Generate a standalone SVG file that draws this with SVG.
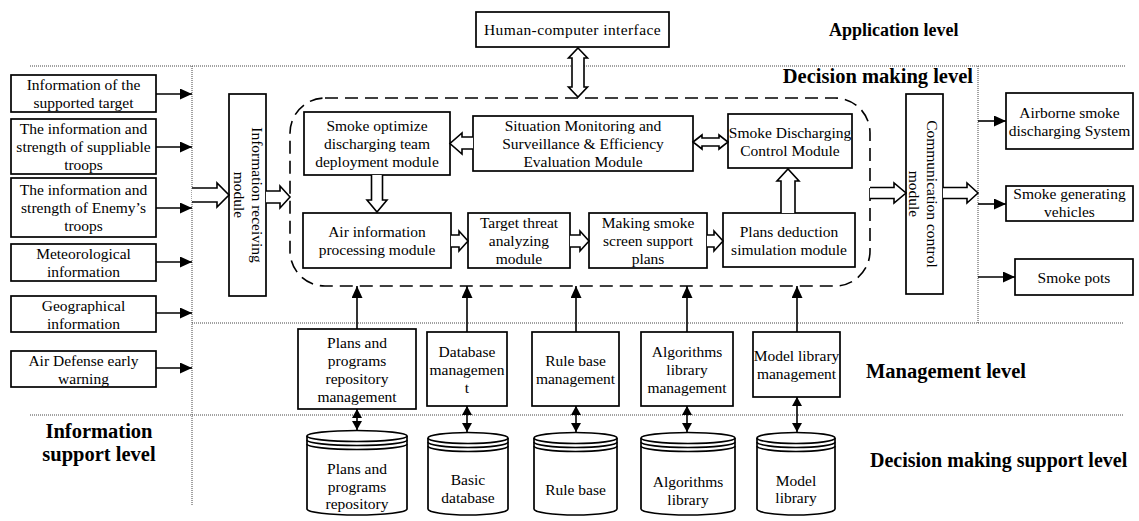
<svg xmlns="http://www.w3.org/2000/svg" width="1139" height="521" viewBox="0 0 1139 521">
<style>
text{font-family:"Liberation Serif","Times New Roman",serif;font-size:15.5px;fill:#000}
.t{text-anchor:middle}
.h{font-weight:bold;font-size:20.5px}
.b{fill:#fff;stroke:#000;stroke-width:1.7}
.d{fill:none;stroke:#444;stroke-width:1;stroke-dasharray:1 1}
.c{fill:none;stroke:#000;stroke-width:1.6}
.ho{fill:#fff;stroke:#000;stroke-width:1.6;stroke-linejoin:miter}
</style>
<defs>
<marker id="a" markerUnits="userSpaceOnUse" markerWidth="12" markerHeight="11" refX="12" refY="5.5" orient="auto-start-reverse"><path d="M0,0 L12,5.5 L0,11 z" fill="#000"/></marker>
<marker id="s" markerUnits="userSpaceOnUse" markerWidth="9" markerHeight="10" refX="9" refY="5" orient="auto-start-reverse"><path d="M0,0 L9,5 L0,10 z" fill="#000"/></marker>
</defs>
<rect width="1139" height="521" fill="#fff"/>

<g id="levels">
<line class="d" x1="30" y1="66" x2="1125" y2="66"/>
<line class="d" x1="192" y1="66" x2="192" y2="505"/>
<line class="d" x1="192" y1="323" x2="1123" y2="323"/>
<line class="d" x1="30" y1="415" x2="1123" y2="415"/>
<line class="d" x1="978" y1="66" x2="978" y2="323"/>
<text class="h" x="829" y="36" style="font-size:18px">Application level</text>
<text class="h" x="973" y="83" text-anchor="end">Decision making level</text>
<text class="h" x="866" y="378">Management level</text>
<text class="h" x="870" y="467" style="font-size:20px">Decision making support level</text>
<text class="h t" x="99" y="438">Information</text>
<text class="h t" x="99" y="461">support level</text>
</g>

<g id="in1"><rect class="b" x="11" y="75" width="145" height="37"/><text class="t" x="83.5" y="90">Information of the</text><text class="t" x="83.5" y="108">supported target</text></g>
<g id="in2"><rect class="b" x="11" y="119" width="145" height="55"/><text class="t" x="83.5" y="134">The information and</text><text class="t" x="83.5" y="152">strength of suppliable</text><text class="t" x="83.5" y="170">troops</text></g>
<g id="in3"><rect class="b" x="11" y="178" width="145" height="59"/><text class="t" x="83.5" y="195">The information and</text><text class="t" x="83.5" y="213">strength of Enemy’s</text><text class="t" x="83.5" y="231">troops</text></g>
<g id="in4"><rect class="b" x="11" y="244" width="145" height="37"/><text class="t" x="83.5" y="259">Meteorological</text><text class="t" x="83.5" y="277">information</text></g>
<g id="in5"><rect class="b" x="11" y="296" width="145" height="36"/><text class="t" x="83.5" y="310.5">Geographical</text><text class="t" x="83.5" y="328.5">information</text></g>
<g id="in6"><rect class="b" x="11" y="351" width="145" height="36"/><text class="t" x="83.5" y="365.5">Air Defense early</text><text class="t" x="83.5" y="383.5">warning</text></g>

<g id="hci"><rect class="b" x="476" y="12" width="193" height="35"/><text class="t" x="572.5" y="35" style="letter-spacing:0.4px">Human-computer interface</text></g>

<g id="recv"><rect class="b" x="229" y="94" width="37" height="202"/><g transform="translate(247.5,195) rotate(90)"><text class="t" x="0" y="-4.5">Information receiving</text><text class="t" x="0" y="14">module</text></g></g>

<g id="comm"><rect class="b" x="906" y="94" width="37" height="200"/><g transform="translate(924.5,194) rotate(90)"><text class="t" x="0" y="-2.5">Communication control</text><text class="t" x="0" y="15.5">module</text></g></g>

<g id="core"><rect x="290" y="98" width="580" height="188" rx="35" ry="35" fill="none" stroke="#000" stroke-width="1.6" stroke-dasharray="13 7"/></g>

<g id="optimize"><rect class="b" x="304" y="112" width="146" height="63"/><text class="t" x="377" y="131">Smoke optimize</text><text class="t" x="377" y="149">discharging team</text><text class="t" x="377" y="167">deployment module</text></g>
<g id="situation"><rect class="b" x="473" y="116" width="220" height="55"/><text class="t" x="583" y="131">Situation Monitoring and</text><text class="t" x="583" y="149">Surveillance &amp; Efficiency</text><text class="t" x="583" y="167">Evaluation Module</text></g>
<g id="discharge"><rect class="b" x="728" y="114" width="124" height="54"/><text class="t" x="790" y="137.5">Smoke Discharging</text><text class="t" x="790" y="155.5">Control Module</text></g>
<g id="airinfo"><rect class="b" x="303" y="213" width="148" height="55"/><text class="t" x="377" y="237">Air information</text><text class="t" x="377" y="255">processing module</text></g>
<g id="threat"><rect class="b" x="468" y="213" width="102" height="55"/><text class="t" x="519" y="228">Target threat</text><text class="t" x="519" y="246">analyzing</text><text class="t" x="519" y="264">module</text></g>
<g id="plans"><rect class="b" x="589" y="213" width="118" height="55"/><text class="t" x="648" y="228">Making smoke</text><text class="t" x="648" y="246">screen support</text><text class="t" x="648" y="264">plans</text></g>
<g id="deduction"><rect class="b" x="723" y="213" width="132" height="54"/><text class="t" x="789" y="237">Plans deduction</text><text class="t" x="789" y="255">simulation module</text></g>

<g id="out1"><rect class="b" x="1006" y="93" width="127" height="56"/><text class="t" x="1069.5" y="117.5">Airborne smoke</text><text class="t" x="1069.5" y="135.5">discharging System</text></g>
<g id="out2"><rect class="b" x="1006" y="186" width="127" height="35"/><text class="t" x="1069.5" y="199">Smoke generating</text><text class="t" x="1069.5" y="217">vehicles</text></g>
<g id="out3"><rect class="b" x="1015" y="259" width="118" height="36"/><text class="t" x="1074" y="282.5">Smoke pots</text></g>

<g id="m1"><rect class="b" x="298" y="329" width="118" height="80"/><text class="t" x="357" y="347.5">Plans and</text><text class="t" x="357" y="365.5">programs</text><text class="t" x="357" y="383.5">repository</text><text class="t" x="357" y="401.5">management</text></g>
<g id="m2"><rect class="b" x="427" y="332" width="80" height="74"/><text class="t" x="467" y="356.5">Database</text><text class="t" x="467" y="374.5">managemen</text><text class="t" x="467" y="392.5">t</text></g>
<g id="m3"><rect class="b" x="532" y="332" width="87" height="74"/><text class="t" x="575.5" y="365.5">Rule base</text><text class="t" x="575.5" y="383.5">management</text></g>
<g id="m4"><rect class="b" x="641" y="332" width="92" height="74"/><text class="t" x="687" y="356.5">Algorithms</text><text class="t" x="687" y="374.5">library</text><text class="t" x="687" y="392.5">management</text></g>
<g id="m5"><rect class="b" x="753" y="332" width="87" height="65"/><text class="t" x="796.5" y="361">Model library</text><text class="t" x="796.5" y="379">management</text></g>

<g id="db1"><path class="b" d="M307 436 V509 A50 6 0 0 0 407 509 V436"/><ellipse class="b" cx="357" cy="436" rx="50" ry="5.5"/><path class="c" d="M307 440 A50 5.5 0 0 0 407 440 M307 444 A50 5.5 0 0 0 407 444"/><text class="t" x="357" y="474">Plans and</text><text class="t" x="357" y="491.5">programs</text><text class="t" x="357" y="509">repository</text></g>
<g id="db2"><path class="b" d="M428 438 V509 A40 6 0 0 0 508 509 V438"/><ellipse class="b" cx="468" cy="438" rx="40" ry="5.5"/><path class="c" d="M428 442 A40 5.5 0 0 0 508 442 M428 446 A40 5.5 0 0 0 508 446"/><text class="t" x="468" y="485">Basic</text><text class="t" x="468" y="503">database</text></g>
<g id="db3"><path class="b" d="M534 438 V509 A41.5 6 0 0 0 617 509 V438"/><ellipse class="b" cx="575.5" cy="438" rx="41.5" ry="5.5"/><path class="c" d="M534 442 A41.5 5.5 0 0 0 617 442 M534 446 A41.5 5.5 0 0 0 617 446"/><text class="t" x="575.5" y="495">Rule base</text></g>
<g id="db4"><path class="b" d="M641 438 V509 A47 6 0 0 0 735 509 V438"/><ellipse class="b" cx="688" cy="438" rx="47" ry="5.5"/><path class="c" d="M641 442 A47 5.5 0 0 0 735 442 M641 446 A47 5.5 0 0 0 735 446"/><text class="t" x="688" y="487">Algorithms</text><text class="t" x="688" y="505">library</text></g>
<g id="db5"><path class="b" d="M757 438 V509 A39 6 0 0 0 835 509 V438"/><ellipse class="b" cx="796" cy="438" rx="39" ry="5.5"/><path class="c" d="M757 442 A39 5.5 0 0 0 835 442 M757 446 A39 5.5 0 0 0 835 446"/><text class="t" x="796" y="486">Model</text><text class="t" x="796" y="503">library</text></g>

<g id="connectors">
<line class="c" x1="156" y1="94" x2="192" y2="94" marker-end="url(#a)"/>
<line class="c" x1="156" y1="147" x2="192" y2="147" marker-end="url(#a)"/>
<line class="c" x1="156" y1="208" x2="192" y2="208" marker-end="url(#a)"/>
<line class="c" x1="156" y1="262" x2="192" y2="262" marker-end="url(#a)"/>
<line class="c" x1="156" y1="313" x2="192" y2="313" marker-end="url(#a)"/>
<line class="c" x1="156" y1="368" x2="192" y2="368" marker-end="url(#a)"/>
<line class="c" x1="978" y1="121" x2="1006" y2="121" marker-end="url(#a)"/>
<line class="c" x1="978" y1="204" x2="1006" y2="204" marker-end="url(#a)"/>
<line class="c" x1="978" y1="277" x2="1015" y2="277" marker-end="url(#a)"/>
<line class="c" x1="357" y1="329" x2="357" y2="286" marker-end="url(#a)"/>
<line class="c" x1="467" y1="332" x2="467" y2="286" marker-end="url(#a)"/>
<line class="c" x1="576" y1="332" x2="576" y2="286" marker-end="url(#a)"/>
<line class="c" x1="687" y1="332" x2="687" y2="286" marker-end="url(#a)"/>
<line class="c" x1="797" y1="332" x2="797" y2="286" marker-end="url(#a)"/>
<line class="c" x1="357" y1="409" x2="357" y2="430" marker-start="url(#s)" marker-end="url(#s)"/>
<line class="c" x1="467" y1="406" x2="467" y2="432" marker-start="url(#s)" marker-end="url(#s)"/>
<line class="c" x1="576" y1="406" x2="576" y2="432" marker-start="url(#s)" marker-end="url(#s)"/>
<line class="c" x1="687" y1="406" x2="687" y2="432" marker-start="url(#s)" marker-end="url(#s)"/>
<line class="c" x1="797" y1="397" x2="797" y2="432" marker-start="url(#s)" marker-end="url(#s)"/>
<path class="ho" d="M578 48 L587.5 58 H584 V87 H587.5 L578 97 L568.5 87 H572 V58 H568.5 Z"/>
<path class="ho" d="M192 188 H217 V183 L229 195 L217 207 V202 H192"/>
<path class="ho" d="M266 191 H280 V186 L290 197 L280 208 V203 H266"/>
<path class="ho" d="M473 137 H462 V133 L450 143.5 L462 154 V149 H473"/>
<path class="ho" d="M693 142 L702 135 V138 H719 V135 L728 142 L719 149 V146 H702 V149 Z"/>
<path class="ho" d="M371.5 175 V200 H367 L377 212 L387 200 H382.5 V175"/>
<path class="ho" d="M451 235 H459 V231 L468 241 L459 251 V247 H451"/>
<path class="ho" d="M570 235 H580 V231 L589 241 L580 251 V247 H570"/>
<path class="ho" d="M707 235 H714 V231 L723 241 L714 251 V247 H707"/>
<path class="ho" d="M781 213 V181 H777 L788 169 L799 181 H795 V213"/>
<path class="ho" d="M870 187.5 H894 V183 L906 193 L894 203 V198.5 H870"/>
<path class="ho" d="M943 187.5 H967 V183 L978 193 L967 203 V198.5 H943"/>
</g>
</svg>
